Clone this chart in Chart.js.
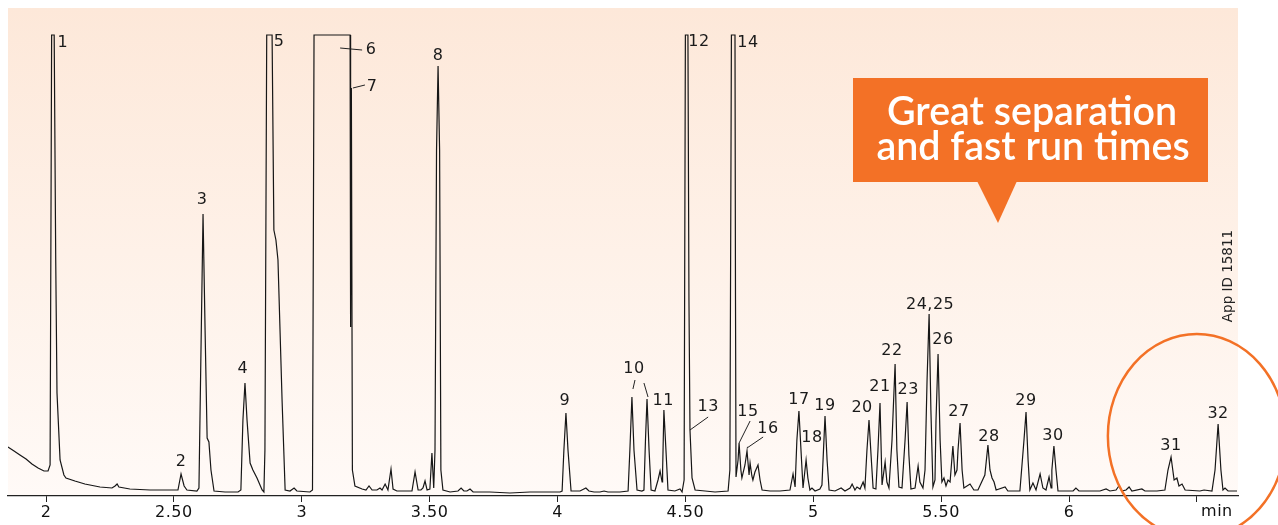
<!DOCTYPE html>
<html>
<head>
<meta charset="utf-8">
<script src="https://cdn.jsdelivr.net/npm/chart.js@4.4.1/dist/chart.umd.min.js"></script>
<style>
  html, body { margin: 0; padding: 0; background: #fff; }
  #wrap { width: 1278px; height: 525px; position: relative; }
</style>
</head>
<body>
<div id="wrap"><canvas id="chart"></canvas></div>
<script>
// chromatogram trace: retention time (min) and detector response (arbitrary units, off-scale peaks flat at 461)
const retentionTime = [
  1.851, 1.875, 1.898, 1.922, 1.945, 1.969, 1.992, 2.008,
  2.016, 2.022, 2.032, 2.038, 2.043, 2.055, 2.070, 2.078,
  2.113, 2.152, 2.211, 2.258, 2.270, 2.278, 2.285, 2.328, 2.407, 2.485,
  2.516, 2.528, 2.540, 2.551, 2.590,
  2.598, 2.606, 2.614, 2.622, 2.630, 2.637, 2.645, 2.657, 2.700, 2.751,
  2.762, 2.770, 2.778, 2.786, 2.798, 2.809, 2.825, 2.845, 2.852,
  2.856, 2.863, 2.884, 2.891, 2.899, 2.907, 2.923, 2.935, 2.954, 2.970, 2.981, 3.032,
  3.042, 3.048, 3.189, 3.191, 3.194, 3.198, 3.208, 3.236,
  3.251, 3.263, 3.275, 3.294, 3.306, 3.314, 3.326, 3.337, 3.349, 3.357, 3.372, 3.400, 3.431, 3.443, 3.455, 3.466, 3.474, 3.482, 3.490, 3.501, 3.509, 3.516,
  3.521, 3.527, 3.533, 3.539, 3.544, 3.552, 3.580, 3.611, 3.623, 3.634, 3.646, 3.658, 3.670, 3.736, 3.814, 3.892, 3.971, 4.010,
  4.018, 4.025, 4.033, 4.041, 4.053, 4.088, 4.111, 4.123, 4.143, 4.166, 4.182, 4.197, 4.244,
  4.276, 4.283, 4.291, 4.299, 4.311, 4.330,
  4.338, 4.344, 4.350, 4.358, 4.366, 4.381,
  4.393, 4.401, 4.409,
  4.411, 4.416, 4.424, 4.432, 4.459, 4.479, 4.487,
  4.495, 4.500, 4.510, 4.514, 4.518, 4.526, 4.538, 4.577, 4.616, 4.667,
  4.674, 4.680, 4.694, 4.696, 4.698,
  4.706, 4.710, 4.717, 4.721,
  4.733, 4.741, 4.749, 4.753, 4.760, 4.764, 4.772, 4.784, 4.792, 4.800, 4.831, 4.870, 4.909,
  4.921, 4.929,
  4.936, 4.944, 4.952, 4.960,
  4.972, 4.979, 4.987, 4.995, 5.007, 5.026, 5.034,
  5.046, 5.054, 5.062, 5.085, 5.109, 5.124, 5.144, 5.152, 5.163, 5.171, 5.183, 5.195, 5.202,
  5.210, 5.218, 5.226, 5.234, 5.245,
  5.253, 5.261, 5.269, 5.281, 5.288, 5.296,
  5.308, 5.320, 5.327, 5.335, 5.347,
  5.359, 5.367, 5.374, 5.382, 5.398, 5.410, 5.417, 5.429,
  5.437, 5.445, 5.453, 5.460, 5.468, 5.476,
  5.480, 5.488, 5.496, 5.503, 5.511, 5.519, 5.527, 5.535,
  5.546, 5.554, 5.562,
  5.566, 5.574, 5.582, 5.589, 5.613, 5.628, 5.644,
  5.671, 5.683, 5.691, 5.699, 5.707, 5.715, 5.750, 5.761, 5.808,
  5.824, 5.832, 5.840, 5.847, 5.859, 5.871, 5.887, 5.898, 5.910, 5.922, 5.930,
  5.933, 5.941, 5.949, 5.957, 5.984, 6.016, 6.027, 6.039, 6.121, 6.145, 6.160, 6.184, 6.195, 6.207, 6.223, 6.235, 6.246, 6.285, 6.297, 6.344, 6.375,
  6.387, 6.399, 6.411, 6.422, 6.430, 6.442, 6.454, 6.512, 6.528, 6.559,
  6.571, 6.583, 6.594, 6.602, 6.610, 6.622, 6.657
];
const response = [
  49, 45, 41, 37, 32, 28, 25, 25,
  31, 461, 461, 236, 103, 36, 21, 18,
  15, 12, 9, 8, 10, 12, 9, 7, 6, 6,
  6, 22, 10, 6, 5,
  8, 146, 282, 166, 58, 54, 26, 5, 4, 4,
  6, 76, 113, 76, 33, 26, 18, 6, 4,
  46, 461, 461, 266, 256, 236, 96, 6, 5, 8, 5, 4,
  6, 461, 461, 169, 408, 26, 10, 7,
  6, 10, 6, 6, 8, 6, 12, 6, 27, 7, 5, 5, 5, 24, 6, 6, 8, 15, 6, 7, 43, 8,
  46, 346, 430, 346, 26, 6, 4, 5, 8, 5, 5, 7, 4, 4, 3, 4, 4, 4,
  5, 46, 83, 46, 5, 5, 8, 5, 4, 4, 5, 4, 4,
  5, 46, 99, 46, 6, 5,
  6, 56, 97, 46, 6, 5,
  16, 25, 14,
  26, 86, 46, 6, 5, 7, 4,
  16, 461, 461, 196, 66, 18, 6, 5, 4, 5,
  26, 461, 461, 196, 19,
  36, 53, 26, 18,
  31, 45, 21, 33, 20, 16, 24, 31, 16, 6, 5, 5, 6,
  22, 9,
  56, 85, 46, 8,
  36, 18, 6, 8, 5, 7, 11,
  80, 36, 6, 5, 8, 5, 8, 12, 6, 9, 7, 14, 8,
  46, 76, 41, 8, 7,
  46, 93, 11, 34, 14, 8,
  56, 132, 46, 9, 8,
  56, 94, 41, 7, 8, 30, 14, 8,
  26, 116, 182, 86, 9, 16,
  76, 142, 56, 14, 18, 10, 16, 14,
  50, 21, 26,
  46, 73, 26, 8, 12, 6, 6,
  21, 51, 26, 18, 14, 6, 9, 5, 5,
  56, 84, 36, 6, 13, 6, 22, 8, 6, 19, 8,
  26, 50, 26, 5, 5, 5, 8, 5, 5, 7, 5, 6, 10, 5, 6, 9, 5, 7, 5, 5, 6,
  26, 39, 16, 18, 10, 12, 6, 5, 6, 5,
  26, 72, 26, 6, 8, 5, 5
];

const tickValues = [2, 2.5, 3, 3.5, 4, 4.5, 5, 5.5, 6, 6.5];
const tickLabels = ['2', '2.50', '3', '3.50', '4', '4.50', '5', '5.50', '6', 'min'];

// peak numbers and where their labels sit (time, response)
const peakNames = ['1', '2', '3', '4', '5', '6', '7', '8', '9', '10', '11', '12', '13', '14', '15', '16',
  '17', '18', '19', '20', '21', '22', '23', '24,25', '26', '27', '28', '29', '30', '31', '32'];
const peakLabelTime = [2.066, 2.528, 2.610, 2.770, 2.911, 3.271, 3.275, 3.533, 4.029, 4.299, 4.413, 4.553, 4.589, 4.745, 4.745, 4.823,
  4.944, 4.995, 5.046, 5.191, 5.261, 5.308, 5.371, 5.457, 5.507, 5.570, 5.687, 5.832, 5.937, 6.399, 6.583];
const peakLabelResp = [453, 34, 296, 127, 454, 446, 409, 440, 95, 127, 95, 454, 89, 453, 84, 67,
  96, 58, 90, 88, 109, 145, 106, 191, 156, 84, 59, 95, 60, 50, 82];

// little leader lines for 6, 7, 10, 10, 13, 15, 16
const leaderT1 = [3.150, 3.200, 4.295, 4.338, 4.518, 4.710, 4.741];
const leaderR1 = [448, 408, 107, 113, 66, 53, 48];
const leaderT2 = [3.236, 3.247, 4.303, 4.354, 4.589, 4.753, 4.804];
const leaderR2 = [446, 411, 116, 99, 79, 75, 59];

const calloutLines = ['Great separation', 'and fast run times'];
const appId = 'App ID 15811';

const ORANGE = '#f37126';
Chart.defaults.font.family = '"DejaVu Sans", sans-serif';

const decor = {
  id: 'decor',
  beforeDraw(chart) {
    const { ctx, chartArea: a } = chart;
    const g = ctx.createLinearGradient(0, a.top, 0, a.bottom);
    g.addColorStop(0, '#fde8d9');
    g.addColorStop(0.5, '#fef1e8');
    g.addColorStop(1, '#fffaf7');
    ctx.fillStyle = g;
    ctx.fillRect(a.left, a.top, a.right - a.left, a.bottom - a.top);
    ctx.letterSpacing = '0.5px';
  },
  afterDatasetsDraw(chart) {
    const { ctx } = chart;
    const xs = chart.scales.x, ys = chart.scales.y;
    ctx.save();
    ctx.strokeStyle = '#222';
    ctx.lineWidth = 1;
    for (let i = 0; i < leaderT1.length; i++) {
      ctx.beginPath();
      ctx.moveTo(xs.getPixelForValue(leaderT1[i]), ys.getPixelForValue(leaderR1[i]));
      ctx.lineTo(xs.getPixelForValue(leaderT2[i]), ys.getPixelForValue(leaderR2[i]));
      ctx.stroke();
    }
    ctx.font = '16px "DejaVu Sans"';
    ctx.fillStyle = '#1a1a1a';
    ctx.textAlign = 'center';
    ctx.textBaseline = 'middle';
    peakNames.forEach((n, i) => {
      ctx.fillText(n, xs.getPixelForValue(peakLabelTime[i]), ys.getPixelForValue(peakLabelResp[i]));
    });
    ctx.restore();
  },
  afterDraw(chart) {
    const { ctx } = chart;
    const xs = chart.scales.x, ys = chart.scales.y;
    ctx.save();

    // "min" sits just right of the last tick
    ctx.font = '16px "DejaVu Sans"';
    ctx.fillStyle = '#111';
    ctx.textAlign = 'center';
    ctx.textBaseline = 'middle';
    ctx.fillText(tickLabels[tickLabels.length - 1], xs.getPixelForValue(6.5) + 20, xs.top + 16);

    // callout box
    ctx.letterSpacing = '0px';
    ctx.fillStyle = ORANGE;
    ctx.fillRect(853, 78, 355, 104);
    ctx.beginPath();
    ctx.moveTo(977, 181);
    ctx.lineTo(1017, 181);
    ctx.lineTo(998, 223);
    ctx.closePath();
    ctx.fill();
    ctx.fillStyle = '#fff';
    ctx.font = '600 33px Lato';
    const w = ctx.measureText(calloutLines[1]).width;
    const size = 33 * 313 / w;
    ctx.font = `600 ${size.toFixed(1)}px Lato`;
    ctx.textAlign = 'center';
    ctx.textBaseline = 'alphabetic';
    ctx.fillText(calloutLines[0], 1032, 125);
    ctx.fillText(calloutLines[1], 1033, 160);

    // highlight ring around 31/32
    ctx.strokeStyle = ORANGE;
    ctx.lineWidth = 2.5;
    ctx.beginPath();
    ctx.ellipse(xs.getPixelForValue(6.5), ys.getPixelForValue(60), 89, 102, 0, 0, Math.PI * 2);
    ctx.stroke();

    // vertical app id
    ctx.fillStyle = '#222';
    ctx.font = '13.5px "DejaVu Sans"';
    ctx.translate(1228, 276);
    ctx.rotate(-Math.PI / 2);
    ctx.textAlign = 'center';
    ctx.textBaseline = 'middle';
    ctx.fillText(appId, 0, 0);
    ctx.restore();
  }
};

new Chart(document.getElementById('chart'), {
  type: 'line',
  data: {
    datasets: [{
      data: retentionTime.map((t, i) => ({ x: t, y: response[i] })),
      borderColor: '#161616',
      borderWidth: 1.2,
      pointRadius: 0,
      tension: 0,
      fill: false
    }]
  },
  options: {
    responsive: true,
    maintainAspectRatio: false,
    animation: false,
    layout: { padding: { left: 8, right: 40, top: 8, bottom: 0 } },
    plugins: { legend: { display: false }, tooltip: { enabled: false } },
    scales: {
      x: {
        type: 'linear',
        min: 1.8514,
        max: 6.6608,
        afterBuildTicks: s => { s.ticks = tickValues.map(v => ({ value: v })); },
        afterFit: s => { s.height = 29; },
        border: { display: true, color: '#222', width: 1.2 },
        grid: { drawOnChartArea: false, drawTicks: true, tickLength: 6, color: '#222' },
        ticks: {
          padding: 1,
          autoSkip: false,
          maxRotation: 0,
          color: '#111',
          font: { size: 16 },
          callback: (v, i) => (tickLabels[i] === 'min' ? '' : tickLabels[i])
        }
      },
      y: { display: false, min: 0, max: 488 }
    }
  },
  plugins: [decor]
});
</script>
</body>
</html>
